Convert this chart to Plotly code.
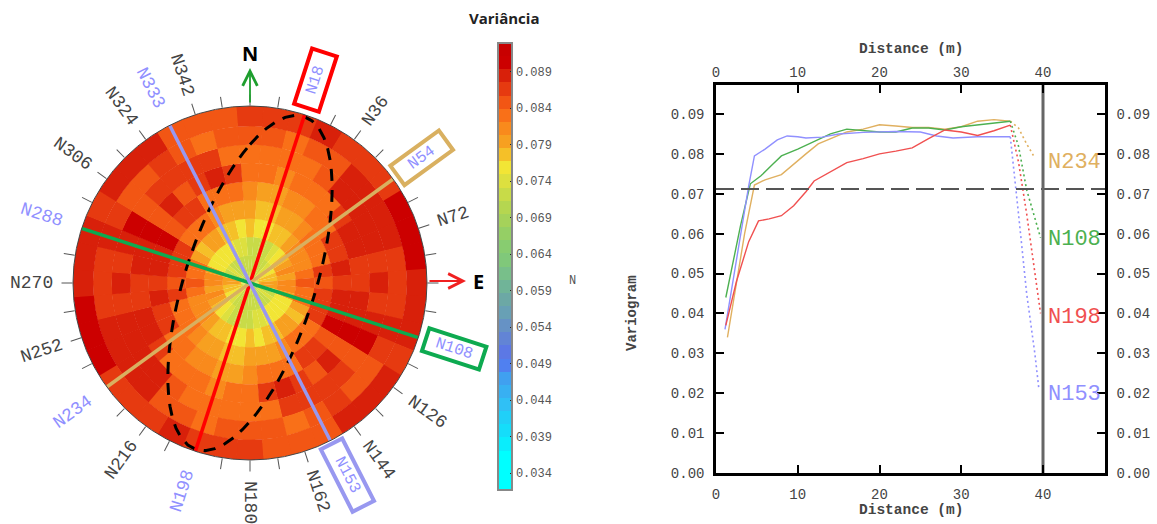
import math
import plotly.graph_objects as go

# ---------- variogram map ----------
SECTOR_DIRS = [0, 9, 18, 27, 36, 45, 54, 63, 72, 81, 90, 99, 108, 117, 126, 135, 144, 153, 162, 171]
RING_EDGES = [0, 0.5, 1.5, 2.5, 3.5, 4.5, 5.5, 6.5, 7.5, 8.5, 9.58]
VAR_000 = [.0721, .0721, .0721, .0776, .0794, .0812, .083, .083, .0848, .0866]
VAR_009 = [.0721, .0721, .0721, .0757, .0776, .0794, .083, .083, .0848, .0866]
VAR_018 = [.0721, .0721, .0721, .0757, .0776, .0794, .0812, .083, .083, .0866]
VAR_027 = [.0721, .0721, .0721, .0776, .0794, .0812, .083, .083, .0848, .0884]
VAR_036 = [.0721, .0721, .0739, .0776, .0794, .0812, .083, .0848, .0848, .0866]
VAR_045 = [.0721, .0739, .0757, .0794, .0812, .083, .083, .0884, .0884, .0866]
VAR_054 = [.0721, .0721, .0776, .0812, .083, .083, .0866, .0884, .0884, .0866]
VAR_063 = [.0721, .0757, .0794, .0812, .083, .0866, .0884, .0884, .0884, .0902]
VAR_072 = [.0739, .0776, .0812, .0812, .083, .0866, .0884, .0884, .0884, .0902]
VAR_081 = [.0721, .0776, .0794, .083, .0866, .0884, .0866, .0866, .0866, .0902]
VAR_090 = [.0757, .0794, .0812, .0848, .0848, .0866, .0866, .0884, .0866, .0884]
VAR_099 = [.0757, .0794, .0812, .083, .0866, .0884, .0884, .0866, .0866, .0884]
VAR_108 = [.068, .0757, .0794, .083, .0866, .0884, .0884, .0884, .0884, .0884]
VAR_117 = [.066, .0721, .0757, .0794, .0866, .0902, .0902, .0902, .0866, .0866]
VAR_126 = [.066, .0739, .0757, .0776, .083, .0848, .0848, .0848, .0848, .0884]
VAR_135 = [.0721, .0721, .0757, .0794, .083, .0866, .0884, .0866, .0848, .0884]
VAR_144 = [.0721, .0721, .0757, .0794, .083, .0866, .0848, .0866, .0866, .0884]
VAR_153 = [.0721, .0721, .0757, .0776, .0812, .083, .0866, .0866, .0848, .0848]
VAR_162 = [.0721, .0721, .0739, .0776, .0794, .083, .0884, .0866, .083, .0848]
VAR_171 = [.0721, .0721, .0739, .0757, .0794, .083, .0866, .083, .0848, .0848]
SECTOR_VALUES = [VAR_000, VAR_009, VAR_018, VAR_027, VAR_036, VAR_045, VAR_054, VAR_063, VAR_072, VAR_081,
                 VAR_090, VAR_099, VAR_108, VAR_117, VAR_126, VAR_135, VAR_144, VAR_153, VAR_162, VAR_171]

BAND_COLORS = ["#00FFFF", "#00FFFF", "#00FFFF", "#0AEDFC", "#15DDFA", "#20D0F8", "#30C0F5", "#38B0F2", "#40A0F0",
               "#5080F0", "#5C78E5", "#6284D5", "#6692C5", "#68A0B5", "#6CA8A5", "#70B498", "#78BF8A", "#80C87A",
               "#88CC70", "#95CF65", "#A5D25A", "#B5D650", "#C8DB48", "#DDE03F", "#F2E535", "#F5C028", "#F7A020",
               "#F98A1C", "#F97018", "#F25614", "#E63A10", "#D8200A", "#CC0000", "#C80000"]
COLOR_MIN, COLOR_MAX = 0.0317, 0.0929
CBAR_TICKS = [0.034, 0.039, 0.044, 0.049, 0.054, 0.059, 0.064, 0.069, 0.074, 0.079, 0.084, 0.089]

STRUCT_LINES = [(18, 198, "#FF0000"), (54, 234, "#D9B060"), (108, 288, "#0DAA50"), (153, 333, "#9898F0")]
BLUE_DIRS = [18, 54, 108, 153, 198, 234, 288, 333]
BLACK_LABELS = [36, 72, 126, 144, 162, 180, 216, 252, 270, 306, 324, 342]
BLUE_LABELS = [198, 234, 288, 333]
BOX_LABELS = [(18, "#FF0000", 213, 22, 54), (54, "#D9B060", 212, 20, 56),
              (108, "#0DAA50", 215, 20, 56), (153, "#9898F0", 215, 20, 66)]
ELLIPSE_DIR, ELLIPSE_MAJOR, ELLIPSE_MINOR = 18, 175, 65

# ---------- experimental variograms ----------
N198_X = [1.2, 2.5, 4, 5.2, 6.5, 8, 9.5, 11, 12, 14, 16, 18, 20, 22, 24, 26, 28, 30, 32, 34, 36]
N198_Y = [.037, .048, .058, .0632, .0637, .0645, .067, .0705, .0732, .0755, .0778, .0788, .08, .0807, .0815, .0838, .086, .0855, .0846, .0858, .0872]
N198_DOT_X = [36, 37, 38, 39, 39.7]
N198_DOT_Y = [.0872, .078, .065, .05, .04]
N153_X = [1.1, 2, 3, 4, 4.7, 6, 7.5, 8.7, 10, 11, 13, 15, 18, 22, 25, 27, 29, 32, 36]
N153_Y = [.036, .047, .06, .072, .0795, .0812, .0835, .0845, .0843, .084, .0842, .085, .0854, .0856, .0855, .0845, .084, .0843, .0843]
N153_DOT_X = [36, 36.5, 37, 38, 39, 39.5]
N153_DOT_Y = [.0843, .075, .065, .045, .03, .021]
N108_X = [1.2, 2, 3, 4.2, 5.5, 7, 8, 10, 12, 14, 16, 18, 20, 22, 24, 26, 28, 30, 33, 36]
N108_Y = [.044, .052, .062, .0725, .0745, .0775, .0795, .0812, .0832, .085, .0862, .0858, .0855, .0855, .0865, .0865, .086, .0868, .0875, .0882]
N108_DOT_X = [36, 37, 38, 39, 39.7]
N108_DOT_Y = [.0882, .082, .071, .064, .059]
N234_X = [1.4, 2.5, 3.5, 4.7, 6, 8, 9.5, 11, 12.5, 14, 16, 18, 20, 22, 24, 26, 28, 30, 32, 34, 36]
N234_Y = [.034, .048, .06, .0722, .0735, .0748, .0775, .08, .0825, .0838, .0855, .0862, .0873, .087, .0866, .0866, .0862, .0868, .0882, .0886, .0882]
N234_DOT_X = [36, 37, 38, 39]
N234_DOT_Y = [.0882, .0865, .0825, .079]
SILL = 0.0712
MAX_DIST = 40
X_TICKS = [0, 10, 20, 30, 40]
Y_TICKS = [0, .01, .02, .03, .04, .05, .06, .07, .08, .09]
CURVE_COLORS = {"N234": "#E0B060", "N108": "#4CB050", "N198": "#F05050", "N153": "#9090FF"}

W, H = 1157, 524
CX, CY, R = 250, 283, 177
MONO = "Liberation Mono"
SANS = "Open Sans"


def px(x):
    return x / W


def py(y):
    return 1 - y / H


def at(theta, dist):
    a = math.radians(theta)
    return px(CX + dist * math.sin(a)), py(CY - dist * math.cos(a))


fig = go.Figure()

# map cells, point-symmetric about the centre
ring_outer = RING_EDGES[-1]
thetas, radii, bases, cvals = [], [], [], []
for d, row in zip(SECTOR_DIRS, SECTOR_VALUES):
    for offset in (0, 180):
        for i, v in enumerate(row):
            thetas.append(d + offset)
            bases.append(max(RING_EDGES[i] - 0.02, 0))
            radii.append(RING_EDGES[i + 1] - bases[-1])
            cvals.append(v)
fig.add_trace(go.Barpolar(theta=thetas, r=radii, base=bases, width=9.25,
                          marker=dict(color=cvals, coloraxis="coloraxis", line=dict(width=0)),
                          hoverinfo="skip", showlegend=False))

# anisotropy ellipse
ell_t = list(range(0, 361, 3))
ell_r = []
for t in ell_t:
    a = math.radians(t - ELLIPSE_DIR)
    ell_r.append(ELLIPSE_MAJOR * ELLIPSE_MINOR / math.hypot(ELLIPSE_MINOR * math.cos(a), ELLIPSE_MAJOR * math.sin(a)) / R * ring_outer)
fig.add_trace(go.Scatterpolar(theta=ell_t, r=ell_r, mode="lines", showlegend=False,
                              line=dict(color="black", width=3, dash="12px,9px")))

# structural directions
for a, b, col in STRUCT_LINES:
    fig.add_trace(go.Scatterpolar(theta=[a, b], r=[ring_outer, ring_outer], mode="lines", showlegend=False,
                                  line=dict(color=col, width=3.5)))
for d in BLUE_DIRS:
    fig.add_trace(go.Scatterpolar(theta=[d, d], r=[ring_outer, ring_outer * 189 / R], mode="lines", showlegend=False,
                                  cliponaxis=False, line=dict(color="#9090FF", width=1)))

# variogram curves
CURVES = [("N234", N234_X, N234_Y, N234_DOT_X, N234_DOT_Y),
          ("N108", N108_X, N108_Y, N108_DOT_X, N108_DOT_Y),
          ("N153", N153_X, N153_Y, N153_DOT_X, N153_DOT_Y),
          ("N198", N198_X, N198_Y, N198_DOT_X, N198_DOT_Y)]
for name, xs, ys, dx, dy in CURVES:
    fig.add_trace(go.Scatter(x=xs, y=ys, mode="lines", name=name, showlegend=False,
                             line=dict(color=CURVE_COLORS[name], width=1.4)))
    fig.add_trace(go.Scatter(x=dx, y=dy, mode="lines", name=name, showlegend=False,
                             line=dict(color=CURVE_COLORS[name], width=1.6, dash="2px,3px")))

y_top = (473 - 85) / (473 - 114) * 0.09
x_right = (1105 - 716) / (1043 - 716) * 40
fig.add_trace(go.Scatter(x=[0, x_right], y=[SILL, SILL], xaxis="x2", yaxis="y2", mode="lines", showlegend=False,
                         line=dict(color="#555555", width=2, dash="18px,7px")))
fig.add_trace(go.Scatter(x=[MAX_DIST, MAX_DIST], y=[0, y_top], xaxis="x2", yaxis="y2", mode="lines", showlegend=False,
                         line=dict(color="#666666", width=3)))

ann = []


def text(x, y, s, size=14, color="#333333", font=MONO, angle=0, **kw):
    ann.append(dict(x=x, y=y, xref="paper", yref="paper", text=s, showarrow=False, textangle=angle,
                    xanchor="center", yanchor="middle", font=dict(family=font, size=size, color=color), **kw))


for d in BLACK_LABELS + BLUE_LABELS:
    s = f"N{d}"
    ang = d - 90 if d <= 180 else d - 270
    dist = 195 + len(s) * 6
    x, y = at(d, dist)
    text(x, y, s, size=18, color="#9090FF" if d in BLUE_LABELS else "#444444", angle=ang)
for d, col, dist, h_, w_ in BOX_LABELS:
    x, y = at(d, dist)
    text(x, y, f"N{d}", size=16, color="#9090FF", angle=d - 90, bordercolor=col, borderwidth=4, bgcolor="white",
         width=w_, height=h_, borderpad=0)

text(px(250), py(53), "<b>N</b>", size=20, color="black", font=SANS)
text(px(478), py(281), "<b>E</b>", size=20, color="black", font=SANS)
text(px(504), py(18), "<b>Variância</b>", size=15, color="#222222", font=SANS)
text(px(572), py(281), "N", size=12, color="#555555")
text(px(911), py(49), "<b>Distance (m)</b>", size=14.5, color="#444444")
text(px(911), py(510), "<b>Distance (m)</b>", size=14.5, color="#444444")
text(px(632), py(313), "<b>Variogram</b>", size=14, color="#444444", angle=-90)
for name, y_ in (("N234", 162), ("N108", 239), ("N198", 317), ("N153", 394)):
    text(px(1074), py(y_), name, size=22, color=CURVE_COLORS[name])

# direction arrows
for (x0, y0, x1, y1, col) in ((250, 104, 250, 68, "#1E9E2E"), (428, 281, 466, 281, "#F02020")):
    ann.append(dict(x=px(x1), y=py(y1), ax=x0 - x1, ay=y0 - y1, xref="paper", yref="paper", axref="pixel", ayref="pixel",
                    text="", showarrow=True, arrowhead=5, arrowsize=1.6, arrowwidth=1.8, arrowcolor=col))

axis_common = dict(showgrid=False, zeroline=False, showline=True, linecolor="black", linewidth=2.5,
                   ticks="inside", ticklen=8, tickwidth=2, tickcolor="black",
                   tickfont=dict(family=MONO, size=14, color="#444444"))
dom_x = [px(716), px(1105)]
dom_y = [py(473), py(85)]
fig.update_layout(
    width=W, height=H, margin=dict(l=0, r=0, t=0, b=0, autoexpand=False), paper_bgcolor="white", plot_bgcolor="white",
    showlegend=False, annotations=ann,
    polar=dict(domain=dict(x=[px(CX - R), px(CX + R)], y=[py(CY + R), py(CY - R)]), bgcolor="white", bargap=0,
               radialaxis=dict(visible=False, range=[0, ring_outer]),
               angularaxis=dict(rotation=90, direction="clockwise", showgrid=False, showticklabels=False,
                                tickmode="array", tickvals=[d for d in range(0, 360, 9) if d not in BLUE_DIRS],
                                ticks="outside", ticklen=11, tickcolor="#555555", tickwidth=1,
                                linecolor="#444444", linewidth=1)),
    coloraxis=dict(cmin=COLOR_MIN, cmax=COLOR_MAX,
                   colorscale=[s for i, c in enumerate(BAND_COLORS)
                               for s in ([i / len(BAND_COLORS), c], [(i + 1) / len(BAND_COLORS), c])],
                   colorbar=dict(x=px(498), xanchor="left", xpad=0, ypad=0, y=py(266.5), yanchor="middle",
                                 lenmode="pixels", len=447, thicknessmode="pixels", thickness=14,
                                 outlinecolor="#888888", outlinewidth=2,
                                 tickmode="array", tickvals=CBAR_TICKS, ticktext=[f"{v:.3f}" for v in CBAR_TICKS],
                                 ticks="inside", ticklen=3, tickcolor="#222222",
                                 tickfont=dict(family=MONO, size=12, color="#555555"))),
    xaxis=dict(domain=dom_x, range=[0, x_right], tickvals=X_TICKS, anchor="y", ticklabelstandoff=6, **axis_common),
    yaxis=dict(domain=dom_y, range=[0, y_top], tickvals=Y_TICKS, tickformat=".2f", anchor="x", ticklabelstandoff=6, **axis_common),
    xaxis2=dict(domain=dom_x, range=[0, x_right], tickvals=X_TICKS, anchor="y2", side="top", overlaying="x", ticklabelstandoff=0, **axis_common),
    yaxis2=dict(domain=dom_y, range=[0, y_top], tickvals=Y_TICKS, tickformat=".2f", anchor="x2", side="right", overlaying="y", ticklabelstandoff=6, **axis_common),
)

fig.write_html("out.html", config=dict(displayModeBar=False), post_script="document.body.style.margin='0';")
